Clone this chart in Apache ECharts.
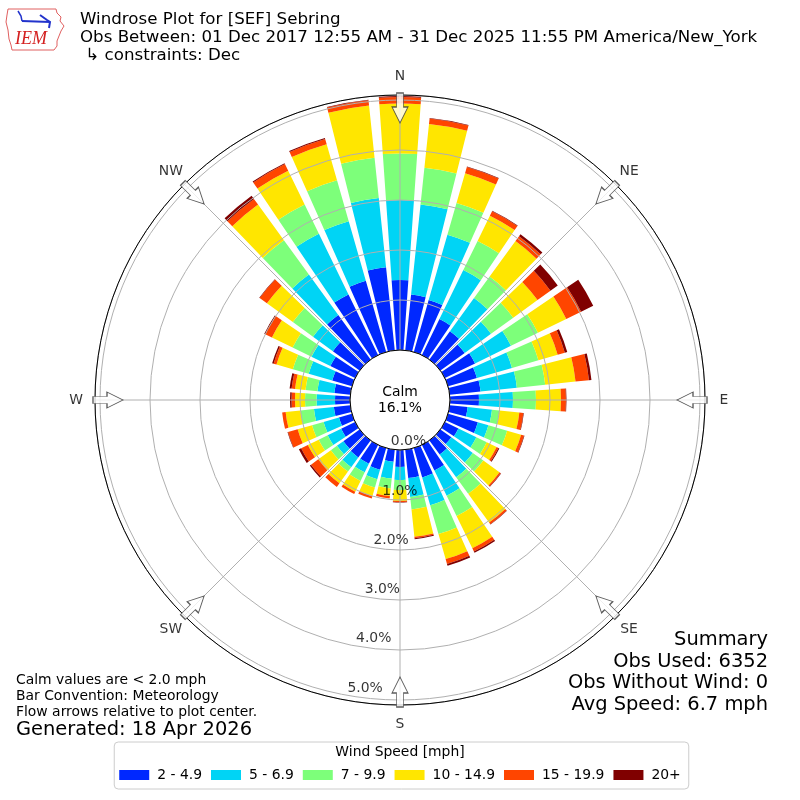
<!DOCTYPE html>
<html>
<head>
<meta charset="utf-8">
<title>Windrose Plot for [SEF] Sebring</title>
<script src="https://cdn.jsdelivr.net/npm/echarts@6/dist/echarts.min.js"></script>
<style>
  html, body { margin: 0; padding: 0; background: #ffffff; }
  #main { width: 800px; height: 800px; }
</style>
</head>
<body>
<div id="main"></div>
<script>
// bar directions, degrees clockwise from north
const directions = [0, 10, 20, 30, 40, 50, 60, 70, 80, 90, 100, 110,
    120, 130, 140, 150, 160, 170, 180, 190, 200, 210, 220, 230,
    240, 250, 260, 270, 280, 290, 300, 310, 320, 330, 340, 350];

const speedBins = ['2 - 4.9', '5 - 6.9', '7 - 9.9', '10 - 14.9', '15 - 19.9', '20+'];
const binColors = ['#0028ff', '#00d4f5', '#7dff7a', '#ffe600', '#ff4500', '#800000'];

// percent of all obs, per direction, for each speed bin
const speed2to5 = [1.40, 1.12, 1.08, 0.80, 0.70, 0.60, 0.67, 0.60, 0.62, 0.58, 0.36, 0.62,
    0.30, 0.27, 0.35, 0.57, 0.61, 0.57, 0.34, 0.24, 0.45, 0.42, 0.42, 0.40,
    0.31, 0.27, 0.33, 0.30, 0.32, 0.41, 0.55, 0.66, 1.10, 1.35, 1.48, 1.67];
const speed5to7 = [1.60, 1.81, 1.36, 1.09, 0.82, 0.65, 0.80, 0.73, 0.73, 0.68, 0.49, 0.22,
    0.40, 0.53, 0.56, 0.56, 0.58, 0.38, 0.26, 0.34, 0.20, 0.19, 0.24, 0.16,
    0.30, 0.32, 0.40, 0.37, 0.34, 0.49, 0.42, 0.49, 1.00, 1.35, 1.24, 1.39];
const speed7to10 = [0.93, 0.74, 0.66, 0.65, 0.53, 0.55, 0.60, 0.55, 0.57, 0.46, 0.15, 0.39,
    0.23, 0.26, 0.41, 0.45, 0.60, 0.25, 0.20, 0.20, 0.17, 0.19, 0.11, 0.15,
    0.20, 0.24, 0.27, 0.23, 0.24, 0.33, 0.42, 0.50, 0.85, 0.65, 0.85, 0.81];
const speed10to15 = [1.00, 0.88, 0.62, 0.56, 0.88, 0.60, 0.63, 0.40, 0.61, 0.50, 0.40, 0.29,
    0.22, 0.40, 0.71, 0.72, 0.52, 0.55, 0.22, 0.15, 0.18, 0.24, 0.29, 0.31,
    0.24, 0.30, 0.30, 0.20, 0.21, 0.34, 0.46, 0.64, 0.88, 0.75, 0.75, 1.05];
const speed15to20 = [0.13, 0.11, 0.13, 0.10, 0.12, 0.32, 0.33, 0.15, 0.27, 0.10, 0.08, 0.06,
    0.04, 0.03, 0.04, 0.07, 0.10, 0.03, 0.02, 0.05, 0.05, 0.05, 0.09, 0.18,
    0.15, 0.20, 0.07, 0.07, 0.07, 0.06, 0.15, 0.18, 0.14, 0.15, 0.11, 0.11];
const speed20up = [0.02, 0.01, 0.01, 0.01, 0.05, 0.18, 0.27, 0.05, 0.05, 0.01, 0.01, 0.01,
    0.02, 0.01, 0.01, 0.03, 0.04, 0.02, 0.01, 0.00, 0.00, 0.00, 0.00, 0.03,
    0.05, 0.01, 0.00, 0.03, 0.04, 0.03, 0.02, 0.01, 0.08, 0.02, 0.02, 0.01];

const calmPercent = 16.1;
const radiusTicks = [0, 1, 2, 3, 4, 5];
const compassAngles = [0, 45, 90, 135, 180, 225, 270, 315];
const compassNames = ['N', 'NE', 'E', 'SE', 'S', 'SW', 'W', 'NW'];

const titleLines = [
    'Windrose Plot for [SEF] Sebring',
    'Obs Between: 01 Dec 2017 12:55 AM - 31 Dec 2025 11:55 PM America/New_York',
    ' \u21b3 constraints: Dec'
];
const summaryLines = ['Summary', 'Obs Used: 6352', 'Obs Without Wind: 0', 'Avg Speed: 6.7 mph'];
const noteLines = ['Calm values are < 2.0 mph', 'Bar Convention: Meteorology', 'Flow arrows relative to plot center.'];
const generatedText = 'Generated: 18 Apr 2026';

const FONT = '"DejaVu Sans", sans-serif';
const SMALL = 13.9;   // 10pt at 100 dpi
const MID = 16.67;    // 12pt
const BIG = 19.44;    // 14pt
const binValues = [speed2to5, speed5to7, speed7to10, speed10to15, speed15to20, speed20up];

const barSeries = binValues.map(function (vals, k) {
    return {
        name: speedBins[k],
        type: 'bar',
        coordinateSystem: 'polar',
        stack: 'wind',
        barCategoryGap: '20%',
        itemStyle: { color: binColors[k] },
        data: directions.map(function (d, i) { return [vals[i], d]; }),
        z: 2,
        silent: true
    };
});

// flow arrows on the rim, pointing at the centre
const arrowSeries = {
    type: 'scatter',
    coordinateSystem: 'polar',
    clip: false,
    symbol: 'path://M4.5,0 L11.5,0 L11.5,14 L16,14 L8,30 L0,14 L4.5,14 Z',
    symbolSize: [16, 30],
    itemStyle: { color: '#ffffff', borderColor: '#333333', borderWidth: 1 },
    data: compassAngles.map(function (a) {
        return { value: [4.84, a], symbolRotate: -a };
    }),
    z: 20,
    silent: true
};

// compass names, centred just outside the rim
const compassLabelSeries = {
    type: 'scatter',
    coordinateSystem: 'polar',
    clip: false,
    symbolSize: 1,
    itemStyle: { color: 'rgba(0,0,0,0)' },
    label: {
        show: true,
        position: 'inside',
        fontFamily: FONT,
        fontSize: SMALL,
        color: '#000',
        formatter: function (p) { return compassNames[p.dataIndex]; }
    },
    data: compassAngles.map(function (a) { return [5.48, a]; }),
    z: 20,
    silent: true
};

// percent labels along the 190 degree line
const radiusLabelSeries = {
    type: 'scatter',
    coordinateSystem: 'polar',
    clip: false,
    symbolSize: 1,
    itemStyle: { color: 'rgba(0,0,0,0)' },
    label: {
        show: true,
        position: [0, 0],
        align: 'left',
        verticalAlign: 'bottom',
        fontFamily: FONT,
        fontSize: SMALL,
        color: '#000',
        formatter: function (p) { return p.value[0].toFixed(1) + '%'; }
    },
    data: radiusTicks.map(function (t) { return [t, 190]; }),
    z: 20,
    silent: true
};

const chart = echarts.init(document.getElementById('main'));
chart.setOption({
    backgroundColor: '#ffffff',
    animation: false,
    textStyle: { fontFamily: FONT },
    polar: { center: [400, 400], radius: [50, 305] },
    angleAxis: {
        type: 'value',
        min: 0,
        max: 360,
        interval: 45,
        startAngle: 90,
        clockwise: true,
        z: 11,
        axisLine: { show: true, lineStyle: { color: '#000', width: 1 } },
        axisTick: { show: false },
        axisLabel: { show: false },
        splitLine: { show: true, lineStyle: { color: '#b0b0b0', width: 1 } }
    },
    radiusAxis: {
        type: 'value',
        min: 0,
        max: 5.1,
        interval: 1,
        z: 10,
        axisLine: { show: false },
        axisTick: { show: false },
        axisLabel: { show: false },
        splitLine: { show: true, lineStyle: { color: '#b0b0b0', width: 1 } }
    },
    legend: {
        data: speedBins,
        left: 'center',
        top: 742,
        orient: 'horizontal',
        icon: 'rect',
        itemWidth: 30,
        itemHeight: 10,
        itemGap: 9,
        padding: [26, 8, 7, 5],
        borderColor: '#cccccc',
        borderWidth: 1,
        borderRadius: 4,
        selectedMode: false,
        textStyle: { fontFamily: FONT, fontSize: SMALL, color: '#000', padding: [0, 0, 0, 3] }
    },
    graphic: [
        {
            type: 'text', x: 80, y: 11,
            style: { text: titleLines.join('\n'), font: MID + 'px ' + FONT, fill: '#000', lineHeight: 18 }
        },
        {
            type: 'text', x: 768, y: 629,
            style: {
                text: summaryLines.join('\n'), font: BIG + 'px ' + FONT, fill: '#000',
                lineHeight: 21.7, textAlign: 'right', align: 'right'
            }
        },
        {
            type: 'text', x: 16, y: 672,
            style: { text: noteLines.join('\n'), font: SMALL + 'px ' + FONT, fill: '#000', lineHeight: 16 }
        },
        {
            type: 'text', x: 16, y: 720,
            style: { text: generatedText, font: BIG + 'px ' + FONT, fill: '#000' }
        },
        {
            type: 'text', x: 400, y: 400, z: 30,
            style: {
                text: 'Calm\n' + calmPercent.toFixed(1) + '%', font: SMALL + 'px ' + FONT, fill: '#000',
                lineHeight: 16, textAlign: 'center', align: 'center',
                textVerticalAlign: 'middle', verticalAlign: 'middle'
            }
        },
        {
            type: 'text', x: 400, y: 745,
            style: { text: 'Wind Speed [mph]', font: SMALL + 'px ' + FONT, fill: '#000', textAlign: 'center', align: 'center' }
        },
        // IEM logo
        {
            type: 'polyline',
            shape: { points: [[8, 9], [56, 9], [57, 13], [61, 17], [60, 21], [64, 26], [61, 31], [59, 36],
                [57, 41], [57, 46], [54, 50], [12, 50], [11, 45], [9, 39], [8, 30], [6, 22], [7, 15], [8, 9]] },
            style: { stroke: '#e06060', lineWidth: 1, fill: null }
        },
        {
            type: 'polyline',
            shape: { points: [[22, 21], [50, 22]] },
            style: { stroke: '#2233cc', lineWidth: 2, fill: null }
        },
        {
            type: 'polyline',
            shape: { points: [[40, 15], [47, 20], [50, 22], [49, 28]] },
            style: { stroke: '#2233cc', lineWidth: 2, fill: null }
        },
        {
            type: 'polyline',
            shape: { points: [[18, 11], [21, 16], [22, 21]] },
            style: { stroke: '#2233cc', lineWidth: 1.5, fill: null }
        },
        {
            type: 'text', x: 15, y: 30,
            style: { text: 'IEM', font: 'italic 18px "Liberation Serif", serif', fill: '#d42020' }
        }
    ],
    series: barSeries.concat([arrowSeries, compassLabelSeries, radiusLabelSeries])
});
</script>
</body>
</html>
